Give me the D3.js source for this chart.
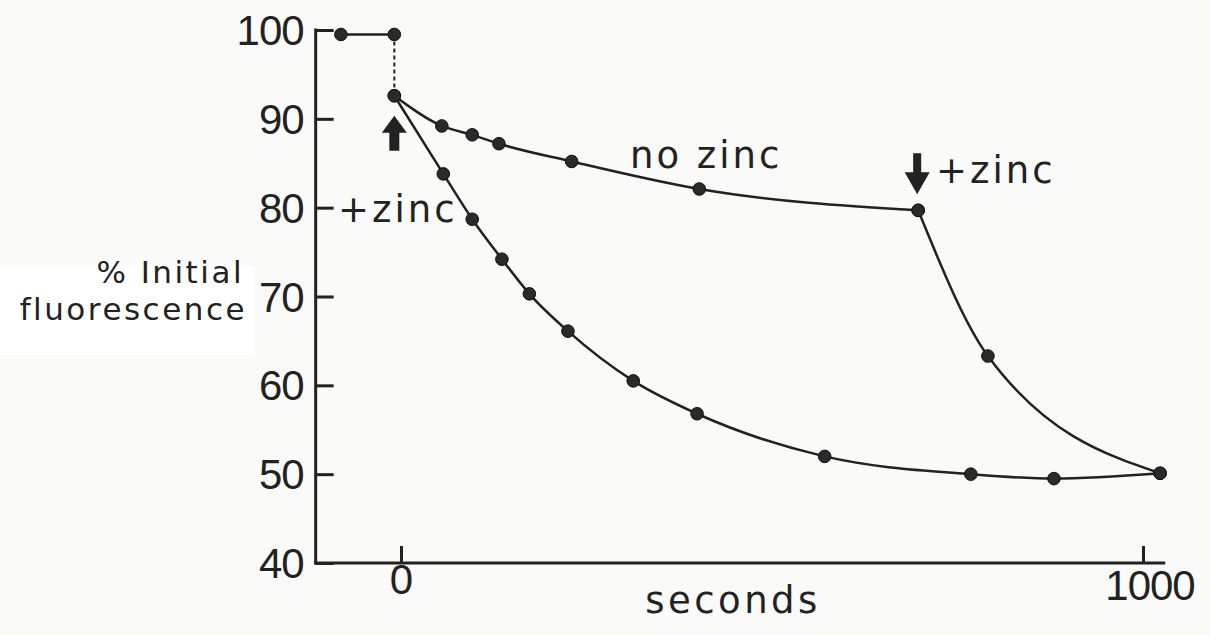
<!DOCTYPE html>
<html>
<head>
<meta charset="utf-8">
<script src="https://cdn.jsdelivr.net/npm/d3@7"></script>
<style>
  html, body { margin: 0; padding: 0; background: #fafaf9; }
  svg { display: block; }
  text { font-family: "DejaVu Sans", sans-serif; fill: #222; }
  text.num { font-family: "Liberation Sans", Arial, sans-serif; }
</style>
</head>
<body>
<svg id="chart"></svg>
<script>
// Fluorescence decay with / without zinc

const width = 1210, height = 635;

// x = seconds, y = % initial fluorescence
const preTime = [-81, -9];
const preVals = [99.5, 99.5];

const noZincTime = [-9, 55, 96, 132, 230, 402, 697];
const noZincVals = [92.6, 89.2, 88.2, 87.2, 85.2, 82.1, 79.7];

const lateZincTime = [697, 791, 1023];
const lateZincVals = [79.7, 63.3, 50.1];

const zincTime = [-9, 57, 96, 136, 173, 225, 313, 399, 571, 768, 880, 1023];
const zincVals = [92.6, 83.8, 78.7, 74.2, 70.3, 66.1, 60.5, 56.8, 52.0, 50.0, 49.5, 50.1];

const yTicks = [40, 50, 60, 70, 80, 90, 100];
const xTicks = [0, 1000];

const ink = "#222";

const svg = d3.select("#chart")
    .attr("width", width)
    .attr("height", height);

// pasted label patch behind the y title
svg.append("rect")
    .attr("x", 0).attr("y", 267)
    .attr("width", 254).attr("height", 88)
    .attr("fill", "#ffffff");

const x = d3.scaleLinear().domain([0, 1000]).range([401, 1143]);
const y = d3.scaleLinear().domain([40, 100]).range([563, 30]);

const axisX0 = x(-115), axisX1 = x(1030);

// y axis
const yAxis = svg.append("g")
    .attr("transform", `translate(${axisX0},0)`)
    .call(d3.axisRight(y).tickValues(yTicks).tickSize(18).tickFormat(""));
yAxis.select(".domain").remove();
yAxis.selectAll("line").attr("stroke", ink).attr("stroke-width", 3);
svg.append("line")
    .attr("x1", axisX0).attr("x2", axisX0)
    .attr("y1", y(100) - 1.5).attr("y2", y(40) + 1.5)
    .attr("stroke", ink).attr("stroke-width", 3);

svg.selectAll("text.ytick")
    .data(yTicks)
    .enter()
    .append("text")
    .attr("class", "ytick num")
    .attr("x", axisX0 - 12)
    .attr("y", d => y(d) + 15)
    .attr("text-anchor", "end")
    .style("font-size", "42px")
    .style("letter-spacing", "-1px")
    .text(d => d);

// x axis
const xAxis = svg.append("g")
    .attr("transform", `translate(0,${y(40)})`)
    .call(d3.axisTop(x).tickValues(xTicks).tickSize(17).tickFormat(""));
xAxis.select(".domain").remove();
xAxis.selectAll("line").attr("stroke", ink).attr("stroke-width", 3);
svg.append("line")
    .attr("x1", axisX0 - 1.5).attr("x2", axisX1)
    .attr("y1", y(40)).attr("y2", y(40))
    .attr("stroke", ink).attr("stroke-width", 3);

svg.selectAll("text.xtick")
    .data(xTicks)
    .enter()
    .append("text")
    .attr("class", "xtick num")
    .attr("x", d => x(d) + (d === 1000 ? 7 : 0))
    .attr("y", d => d === 1000 ? 600 : 594)
    .attr("text-anchor", "middle")
    .style("font-size", "42px")
    .style("letter-spacing", "-1px")
    .text(d => d);

svg.append("text")
    .attr("x", 733).attr("y", 613)
    .attr("text-anchor", "middle")
    .style("font-size", "37px")
    .style("letter-spacing", "3.5px")
    .text("seconds");

// y title
svg.append("text")
    .attr("x", 244).attr("y", 283)
    .attr("text-anchor", "end")
    .style("font-size", "31px")
    .style("letter-spacing", "2.5px")
    .text("% Initial");
svg.append("text")
    .attr("x", 247).attr("y", 320)
    .attr("text-anchor", "end")
    .style("font-size", "31px")
    .style("letter-spacing", "2.5px")
    .text("fluorescence");

// lines
const line = d3.line()
    .x(d => x(d[0]))
    .y(d => y(d[1]))
    .curve(d3.curveMonotoneX);

const zip = (ts, vs) => ts.map((t, i) => [t, vs[i]]);

const series = [
    zip(preTime, preVals),
    zip(noZincTime, noZincVals),
    zip(lateZincTime, lateZincVals),
    zip(zincTime, zincVals)
];

svg.selectAll("path.series")
    .data(series)
    .enter()
    .append("path")
    .attr("class", "series")
    .attr("fill", "none")
    .attr("stroke", ink)
    .attr("stroke-width", 2.5)
    .attr("d", line);

// dashed drop at time zero
svg.append("line")
    .attr("x1", x(preTime[1])).attr("x2", x(noZincTime[0]))
    .attr("y1", y(preVals[1])).attr("y2", y(noZincVals[0]))
    .attr("stroke", ink)
    .attr("stroke-width", 2)
    .attr("stroke-dasharray", "4,3");

// points
svg.selectAll("circle.pt")
    .data(series.flat())
    .enter()
    .append("circle")
    .attr("class", "pt")
    .attr("cx", d => x(d[0]))
    .attr("cy", d => y(d[1]))
    .attr("r", 6.3)
    .attr("fill", "#2a2a2a")
    .attr("stroke", "#111")
    .attr("stroke-width", 1);

// arrows
const upX = x(zincTime[0]), upTop = y(zincVals[0]) + 20;
svg.append("path")
    .attr("d", `M${upX},${upTop} L${upX + 12.5},${upTop + 17} L${upX + 5},${upTop + 17} L${upX + 5},${upTop + 35} L${upX - 5},${upTop + 35} L${upX - 5},${upTop + 17} L${upX - 12.5},${upTop + 17} Z`)
    .attr("fill", ink);

const dnX = x(lateZincTime[0]) - 1, dnTip = y(lateZincVals[0]) - 16;
svg.append("path")
    .attr("d", `M${dnX},${dnTip} L${dnX + 12.5},${dnTip - 22} L${dnX + 4},${dnTip - 22} L${dnX + 4},${dnTip - 41} L${dnX - 4},${dnTip - 41} L${dnX - 4},${dnTip - 22} L${dnX - 12.5},${dnTip - 22} Z`)
    .attr("fill", ink);

// labels
const labels = [
    { text: "no zinc", x: 630, y: 168 },
    { text: "+zinc", x: 338, y: 222 },
    { text: "+zinc", x: 936, y: 183 }
];
svg.selectAll("text.lab")
    .data(labels)
    .enter()
    .append("text")
    .attr("class", "lab")
    .attr("x", d => d.x)
    .attr("y", d => d.y)
    .style("font-size", "37px")
    .style("letter-spacing", "3px")
    .text(d => d.text);
</script>
</body>
</html>
